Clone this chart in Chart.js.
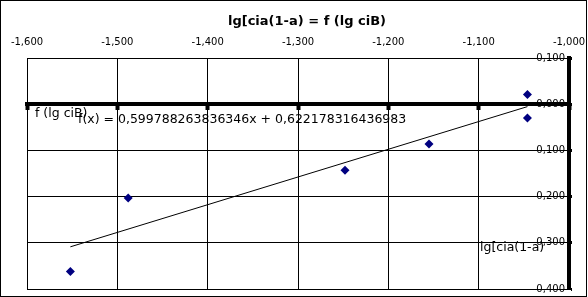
<!DOCTYPE html>
<html>
<head>
<meta charset="utf-8">
<script src="https://cdn.jsdelivr.net/npm/chart.js@4.4.1/dist/chart.umd.min.js"></script>
<style>
  html, body { margin: 0; padding: 0; background: #fff; }
  canvas { display: block; }
</style>
</head>
<body>
<canvas id="chart" width="588" height="297"></canvas>
<script>
// Data
const xTicks = [-1.6, -1.5, -1.4, -1.3, -1.2, -1.1, -1.0];
const yTicks = [0.1, 0.0, -0.1, -0.2, -0.3, -0.4];
const xValues = [-1.552, -1.488, -1.248, -1.155, -1.046, -1.046];
const yValues = [-0.362, -0.203, -0.143, -0.086, 0.021, -0.030];
const slope = 0.599788263836346;
const intercept = 0.622178316436983;

const FONT = 'DejaVu Sans';

function fmt(v) {
    const n = Math.abs(v) < 1e-9 ? 0 : v;
    return n.toFixed(3).replace('.', ',');
}

const points = xValues.map((x, i) => ({ x: x, y: yValues[i] }));
const xMin = Math.min(...xValues);
const xMax = Math.max(...xValues);
const trend = [
    { x: xMin, y: slope * xMin + intercept },
    { x: xMax, y: slope * xMax + intercept }
];

// Title, axis captions, equation, frame and outer border
const extras = {
    id: 'extras',
    beforeDatasetsDraw(chart) {
        const { ctx, chartArea: a } = chart;
        ctx.save();
        ctx.strokeStyle = '#000';
        ctx.lineWidth = 1;
        ctx.beginPath();
        ctx.moveTo(Math.round(a.left) + 0.5, a.top);
        ctx.lineTo(Math.round(a.left) + 0.5, Math.round(a.bottom) + 0.5);
        ctx.lineTo(a.right, Math.round(a.bottom) + 0.5);
        ctx.stroke();
        ctx.restore();
    },
    afterDraw(chart) {
        const { ctx, chartArea: a, scales } = chart;
        const y0 = scales.y.getPixelForValue(0);
        ctx.save();
        ctx.fillStyle = '#000';
        ctx.textBaseline = 'middle';

        ctx.font = 'bold 13px "' + FONT + '"';
        ctx.textAlign = 'center';
        ctx.fillText('lg[cia(1-a) = f (lg ciB)', 307, 22);

        ctx.font = '12.5px "' + FONT + '"';
        ctx.textAlign = 'left';
        ctx.fillText('f (lg ciB)', a.left + 8, y0 + 10);
        ctx.fillText('f(x) = ' + slope.toString().replace('.', ',') + 'x + ' +
            intercept.toString().replace('.', ','), a.left + 51, y0 + 16);
        ctx.fillText('lg[cia(1-a)', a.left + 453, scales.y.getPixelForValue(-0.3) + 5);

        ctx.strokeStyle = '#000';
        ctx.lineWidth = 1;
        ctx.strokeRect(0.5, 0.5, 586, 296);
        ctx.restore();
    }
};

const ctx = document.getElementById('chart').getContext('2d');
const chart = new Chart(ctx, {
    type: 'scatter',
    data: {
        datasets: [{
            label: 'lg[cia(1-a)',
            data: points,
            xAxisID: 'x',
            yAxisID: 'y',
            pointStyle: 'rectRot',
            pointRadius: 4.5,
            pointHoverRadius: 4.5,
            backgroundColor: '#000080',
            borderColor: '#000080',
            borderWidth: 0
        }, {
            type: 'line',
            label: 'trend',
            data: trend,
            xAxisID: 'x',
            yAxisID: 'y',
            borderColor: '#000',
            borderWidth: 1,
            pointRadius: 0,
            fill: false
        }]
    },
    options: {
        responsive: false,
        animation: false,
        devicePixelRatio: 1,
        layout: { padding: { left: 27, right: 11, top: 26, bottom: 8 } },
        plugins: {
            legend: { display: false },
            title: { display: false },
            tooltip: { enabled: false }
        },
        scales: {
            x: {
                type: 'linear',
                position: 'top',
                min: -1.6,
                max: -1.0,
                afterBuildTicks: axis => { axis.ticks = xTicks.map(v => ({ value: v })); },
                afterFit: axis => { axis.paddingLeft = 0; axis.paddingRight = 0; },
                grid: { color: '#000', lineWidth: 1, drawTicks: false },
                border: { color: '#000', width: 1 },
                ticks: {
                    color: '#000',
                    font: { family: FONT, size: 10 },
                    padding: 10,
                    maxRotation: 0,
                    autoSkip: false,
                    callback: v => fmt(v)
                }
            },
            x0: {
                type: 'linear',
                axis: 'x',
                position: { y: 0 },
                min: -1.6,
                max: -1.0,
                afterBuildTicks: axis => { axis.ticks = xTicks.map(v => ({ value: v })); },
                grid: { drawOnChartArea: false, color: '#000', tickLength: 4, tickWidth: 4 },
                border: { color: '#000', width: 4 },
                ticks: { display: false }
            },
            y: {
                type: 'linear',
                position: 'right',
                min: -0.4,
                max: 0.1,
                afterBuildTicks: axis => { axis.ticks = yTicks.map(v => ({ value: v })); },
                afterFit: axis => { axis.width = 8; axis.paddingTop = 0; axis.paddingBottom = 0; },
                grid: { color: '#000', lineWidth: 1, tickLength: 3, tickWidth: 3 },
                border: { color: '#000', width: 4 },
                ticks: {
                    mirror: true,
                    padding: -4,
                    color: '#000',
                    font: { family: FONT, size: 10 },
                    autoSkip: false,
                    callback: v => fmt(v)
                }
            }
        }
    },
    plugins: [extras]
});
</script>
</body>
</html>
